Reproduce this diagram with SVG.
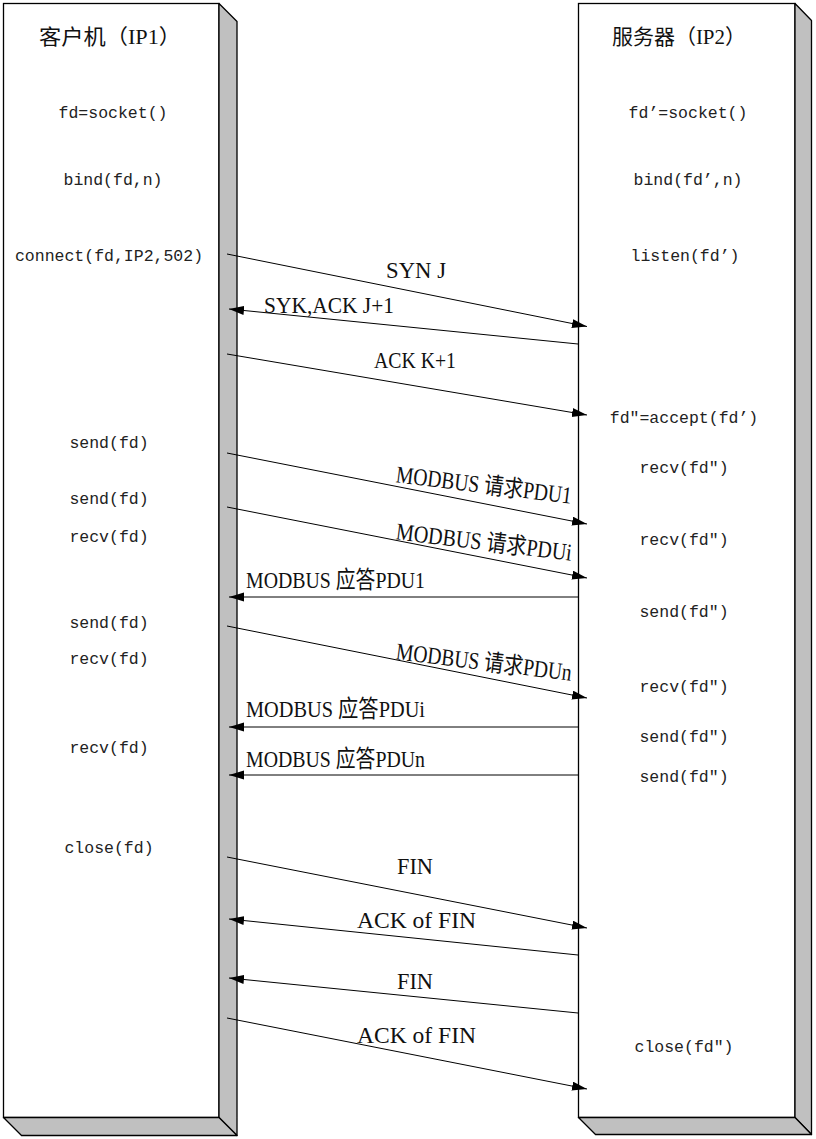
<svg xmlns="http://www.w3.org/2000/svg" width="816" height="1139" viewBox="0 0 816 1139">
<style>
.front{fill:#fff;stroke:#000;stroke-width:1.3}
.depth{fill:#c0c0c0;stroke:#000;stroke-width:1.3;stroke-linejoin:round}
.title{font-family:"Liberation Serif","Noto Sans CJK SC",serif;font-size:21px;fill:#111;text-anchor:middle}
.fn{font-family:"Liberation Mono","DejaVu Sans Mono",monospace;font-size:16.5px;fill:#222;text-anchor:middle}
.msg{stroke:#000;stroke-width:1;fill:none;marker-end:url(#ah)}
.lbl{font-family:"Liberation Serif","Noto Sans CJK SC",serif;font-size:23px;fill:#111}
.big{font-size:24px}
</style>
<defs>
<marker id="ah" markerUnits="userSpaceOnUse" markerWidth="16" markerHeight="10" refX="15" refY="4.5" orient="auto">
<path d="M0,0 L15,4.5 L0,9 z" fill="#000"/>
</marker>
</defs>
<rect width="816" height="1139" fill="#fff"/>
<g id="client">
<rect class="front" x="3.5" y="3.5" width="215.5" height="1114"/>
<polygon class="depth" points="219,3.5 237,21.5 237,1135.5 219,1117.5"/>
<polygon class="depth" points="3.5,1117.5 219,1117.5 237,1135.5 21.5,1135.5"/>
<text class="title" x="110" y="44" textLength="142" lengthAdjust="spacingAndGlyphs">客户机（IP1）</text>
<text class="fn" x="113" y="118">fd=socket()</text>
<text class="fn" x="113" y="185">bind(fd,n)</text>
<text class="fn" x="109" y="261">connect(fd,IP2,502)</text>
<text class="fn" x="109" y="448">send(fd)</text>
<text class="fn" x="109" y="504">send(fd)</text>
<text class="fn" x="109" y="542">recv(fd)</text>
<text class="fn" x="109" y="628">send(fd)</text>
<text class="fn" x="109" y="664">recv(fd)</text>
<text class="fn" x="109" y="753">recv(fd)</text>
<text class="fn" x="109" y="853">close(fd)</text>
</g>
<g id="server">
<rect class="front" x="578.5" y="3.5" width="216.5" height="1114"/>
<polygon class="depth" points="795,3.5 811.5,20.5 811.5,1134.5 795,1117.5"/>
<polygon class="depth" points="578.5,1117.5 795,1117.5 811.5,1134.5 595.5,1134.5"/>
<text class="title" x="679" y="44" textLength="134" lengthAdjust="spacingAndGlyphs">服务器（IP2）</text>
<text class="fn" x="688" y="118">fd’=socket()</text>
<text class="fn" x="688" y="185">bind(fd’,n)</text>
<text class="fn" x="685" y="261">listen(fd’)</text>
<text class="fn" x="684" y="423">fd″=accept(fd’)</text>
<text class="fn" x="684" y="473">recv(fd″)</text>
<text class="fn" x="684" y="545">recv(fd″)</text>
<text class="fn" x="684" y="617">send(fd″)</text>
<text class="fn" x="684" y="692">recv(fd″)</text>
<text class="fn" x="684" y="742">send(fd″)</text>
<text class="fn" x="684" y="782">send(fd″)</text>
<text class="fn" x="684" y="1052">close(fd″)</text>
</g>
<g id="connectors">
<line class="msg" x1="227" y1="254" x2="587" y2="326.5"/>
<line class="msg" x1="578" y1="344" x2="229" y2="309"/>
<line class="msg" x1="227" y1="354" x2="587" y2="415"/>
<line class="msg" x1="227" y1="453" x2="587" y2="524"/>
<line class="msg" x1="227" y1="507" x2="587" y2="578"/>
<line class="msg" x1="578" y1="597" x2="229" y2="597"/>
<line class="msg" x1="227" y1="626" x2="587" y2="698"/>
<line class="msg" x1="578" y1="727" x2="229" y2="727"/>
<line class="msg" x1="578" y1="775" x2="229" y2="775"/>
<line class="msg" x1="227" y1="857" x2="587" y2="928"/>
<line class="msg" x1="578" y1="955" x2="229" y2="919"/>
<line class="msg" x1="578" y1="1013" x2="229" y2="978"/>
<line class="msg" x1="227" y1="1018" x2="587" y2="1089"/>
<text class="lbl" x="416" y="278" text-anchor="middle" textLength="60" lengthAdjust="spacingAndGlyphs">SYN J</text>
<text class="lbl" x="264" y="313" textLength="130" lengthAdjust="spacingAndGlyphs">SYK,ACK J+1</text>
<text class="lbl" x="415" y="368" text-anchor="middle" textLength="82" lengthAdjust="spacingAndGlyphs">ACK K+1</text>
<text class="lbl big" x="483" y="493" text-anchor="middle" textLength="177" lengthAdjust="spacingAndGlyphs" transform="rotate(7 483 493)">MODBUS 请求PDU1</text>
<text class="lbl big" x="483" y="550" text-anchor="middle" textLength="177" lengthAdjust="spacingAndGlyphs" transform="rotate(7 483 550)">MODBUS 请求PDUi</text>
<text class="lbl big" x="483" y="670" text-anchor="middle" textLength="177" lengthAdjust="spacingAndGlyphs" transform="rotate(7 483 670)">MODBUS 请求PDUn</text>
<text class="lbl big" x="246" y="588" textLength="179" lengthAdjust="spacingAndGlyphs">MODBUS 应答PDU1</text>
<text class="lbl big" x="246" y="717" textLength="179" lengthAdjust="spacingAndGlyphs">MODBUS 应答PDUi</text>
<text class="lbl big" x="246" y="767" textLength="179" lengthAdjust="spacingAndGlyphs">MODBUS 应答PDUn</text>
<text class="lbl" x="415" y="874" text-anchor="middle" textLength="36" lengthAdjust="spacingAndGlyphs">FIN</text>
<text class="lbl" x="416.5" y="928" text-anchor="middle" textLength="119" lengthAdjust="spacingAndGlyphs">ACK of FIN</text>
<text class="lbl" x="415" y="989" text-anchor="middle" textLength="36" lengthAdjust="spacingAndGlyphs">FIN</text>
<text class="lbl" x="416.5" y="1043" text-anchor="middle" textLength="119" lengthAdjust="spacingAndGlyphs">ACK of FIN</text>
</g>
</svg>
